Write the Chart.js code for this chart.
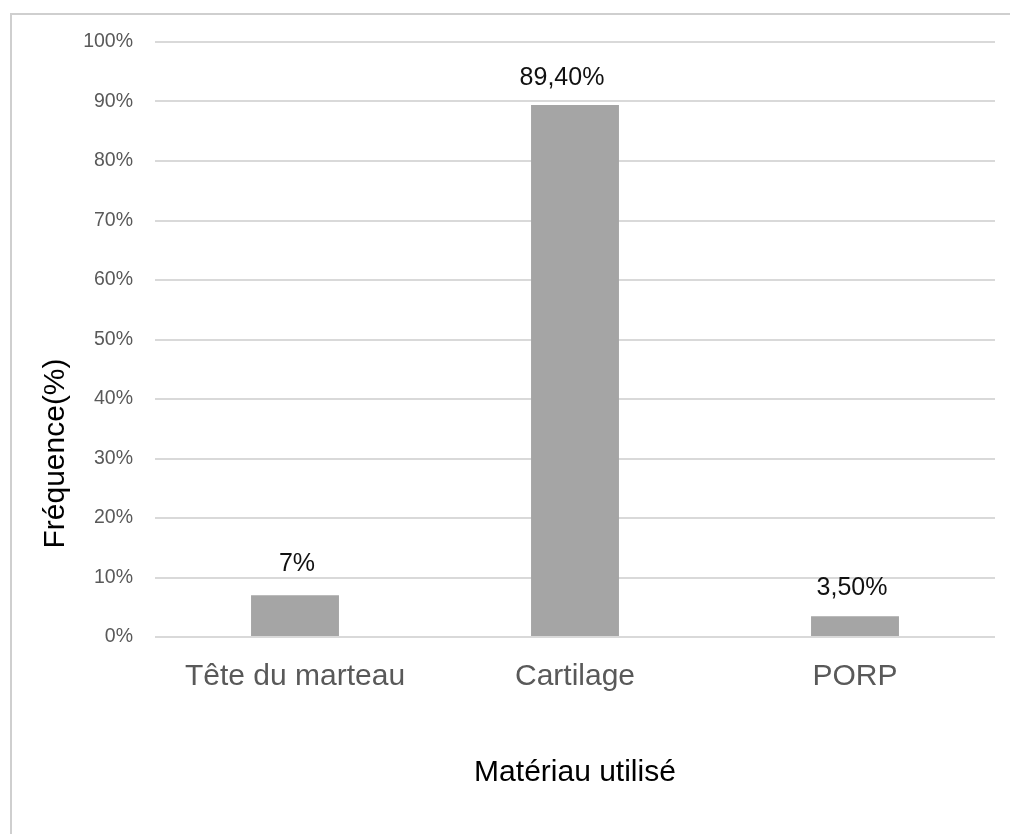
<!DOCTYPE html>
<html>
<head>
<meta charset="utf-8">
<script src="https://cdn.jsdelivr.net/npm/chart.js@4/dist/chart.umd.min.js"></script>
<style>
  html, body { margin: 0; padding: 0; background: #ffffff; }
  #wrap { position: relative; width: 1010px; height: 834px; overflow: hidden; }
  #frame { position: absolute; left: 10px; top: 13px; width: 1100px; height: 900px;
           border-left: 2px solid #cfcfcf; border-top: 2px solid #cfcfcf; box-sizing: border-box; }
  canvas { position: absolute; left: 0; top: 0; }
</style>
</head>
<body>
<div id="wrap">
  <div id="frame"></div>
  <canvas id="chart" width="1010" height="834"></canvas>
</div>
<script>
const categories = ['Tête du marteau', 'Cartilage', 'PORP'];
const frequencies = [7, 89.4, 3.5];
const yTicks = [0, 10, 20, 30, 40, 50, 60, 70, 80, 90, 100];

const FONT = '"Liberation Sans", Arial, sans-serif';

function frLabel(v) {
  return (Number.isInteger(v) ? String(v) : v.toFixed(2).replace('.', ',')) + '%';
}

// Writes each bar's value just above it (with small manual nudges)
const valueLabels = {
  id: 'valueLabels',
  afterDatasetsDraw(chart, args, opts) {
    const ctx = chart.ctx;
    const meta = chart.getDatasetMeta(0);
    ctx.save();
    ctx.font = '25px ' + FONT;
    ctx.fillStyle = '#111111';
    ctx.textAlign = 'center';
    ctx.textBaseline = 'alphabetic';
    meta.data.forEach((bar, i) => {
      const [dx, dy] = opts.nudges[i] || [0, 0];
      ctx.fillText(frLabel(frequencies[i]), bar.x + dx, bar.y - 21 + dy);
    });
    ctx.restore();
  }
};

// Vertical axis title, placed a little below the middle of the axis
const yTitle = {
  id: 'yTitle',
  afterDraw(chart, args, opts) {
    const ctx = chart.ctx;
    const area = chart.chartArea;
    ctx.save();
    ctx.font = '30px ' + FONT;
    ctx.fillStyle = '#000000';
    ctx.textAlign = 'center';
    ctx.textBaseline = 'alphabetic';
    ctx.translate(opts.x, (area.top + area.bottom) / 2 + opts.shift);
    ctx.rotate(-Math.PI / 2);
    ctx.fillText(opts.text, 0, 0);
    ctx.restore();
  }
};

new Chart(document.getElementById('chart'), {
  type: 'bar',
  data: {
    labels: categories,
    datasets: [{
      data: frequencies,
      backgroundColor: '#a5a5a5',
      borderWidth: 0,
      barPercentage: 0.314,
      categoryPercentage: 1
    }]
  },
  options: {
    responsive: false,
    animation: false,
    layout: { padding: { top: 42, right: 15, left: 0, bottom: 0 } },
    plugins: {
      legend: { display: false },
      tooltip: { enabled: false },
      valueLabels: { nudges: [[2, -3], [-13, 1], [-3, 0]] },
      yTitle: { text: 'Fréquence(%)', x: 64, shift: 114 }
    },
    scales: {
      x: {
        grid: { display: false },
        border: { display: false },
        ticks: {
          color: '#595959',
          font: { family: FONT, size: 30 },
          padding: 14,
          maxRotation: 0
        },
        title: {
          display: true,
          text: 'Matériau utilisé',
          color: '#000000',
          font: { family: FONT, size: 30 },
          padding: { top: 0, bottom: 43 }
        },
        afterFit(scale) { scale.height = 197; }
      },
      y: {
        min: 0,
        max: 100,
        afterBuildTicks(scale) { scale.ticks = yTicks.map(v => ({ value: v })); },
        grid: { color: '#d9d9d9', lineWidth: 2, drawTicks: false },
        border: { display: false },
        ticks: {
          color: '#595959',
          font: { family: FONT, size: 19.5 },
          padding: 22,
          callback: v => v + '%'
        },
        afterFit(scale) { scale.width = 155; }
      }
    }
  },
  plugins: [valueLabels, yTitle]
});
</script>
</body>
</html>
